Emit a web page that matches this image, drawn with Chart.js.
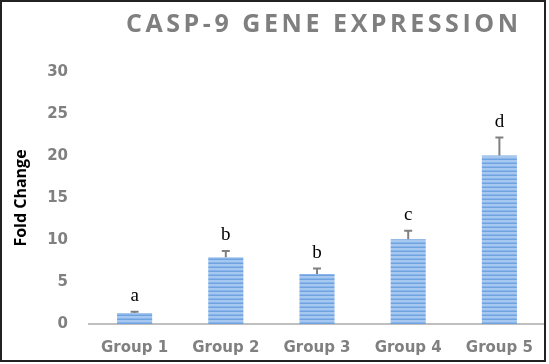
<!DOCTYPE html>
<html>
<head>
<meta charset="utf-8">
<script src="https://cdn.jsdelivr.net/npm/chart.js@4.4.1/dist/chart.umd.min.js"></script>
<style>
    html, body { margin: 0; padding: 0; background: white; }
    #wrap { width: 549px; height: 364px; }
</style>
</head>
<body>
<div id="wrap"><canvas id="grafico"></canvas></div>
<script>
const grupos = ['Group 1', 'Group 2', 'Group 3', 'Group 4', 'Group 5']
const foldChange = [1.3, 7.95, 5.95, 10.1, 20.05]
const errores = [0.15, 0.75, 0.65, 1.0, 2.15]
const letras = ['a', 'b', 'b', 'c', 'd']
const tituloTexto = 'CASP-9 GENE EXPRESSION'

// rayas horizontales de las barras
function crearPatron() {
    const c = document.createElement('canvas')
    c.width = 1
    c.height = 4
    const g = c.getContext('2d')
    g.fillStyle = '#a6c7f0'
    g.fillRect(0, 0, 1, 4)
    g.fillStyle = '#8ab5ea'
    g.fillRect(0, 2, 1, 1)
    g.fillStyle = '#6fa3e0'
    g.fillRect(0, 3, 1, 1)
    return g.createPattern(c, 'repeat')
}

const extras = {
    id: 'extras',
    afterDatasetsDraw(chart) {
        const ctx = chart.ctx
        const y = chart.scales.y
        const barras = chart.getDatasetMeta(0).data
        ctx.save()
        barras.forEach((bar, i) => {
            const yErr = y.getPixelForValue(foldChange[i] + errores[i])
            ctx.strokeStyle = '#808080'
            ctx.lineWidth = 2
            ctx.beginPath()
            ctx.moveTo(bar.x, bar.y)
            ctx.lineTo(bar.x, yErr)
            ctx.moveTo(bar.x - 4, yErr)
            ctx.lineTo(bar.x + 4, yErr)
            ctx.stroke()

            ctx.fillStyle = '#000'
            ctx.font = '19px "Liberation Serif"'
            ctx.textAlign = 'center'
            ctx.textBaseline = 'alphabetic'
            ctx.fillText(letras[i], bar.x, yErr - 11)
        })
        ctx.restore()
    },
    afterDraw(chart) {
        const ctx = chart.ctx
        ctx.save()
        // titulo
        ctx.font = 'bold 25px "Open Sans"'
        ctx.fillStyle = '#7f7f7f'
        ctx.textBaseline = 'middle'
        ctx.textAlign = 'left'
        const w = ctx.measureText(tituloTexto).width
        const esp = (392 - w) / (tituloTexto.length - 1)
        ctx.letterSpacing = esp + 'px'
        ctx.fillText(tituloTexto, 322 - 196, 25)
        ctx.letterSpacing = '0px'
        // marco
        ctx.strokeStyle = '#222'
        ctx.lineWidth = 2
        ctx.strokeRect(1, 1, 544, 360)
        ctx.restore()
    }
}

const ctx = document.getElementById('grafico').getContext('2d')
new Chart(ctx, {
    type: 'bar',
    data: {
        labels: grupos,
        datasets: [{
            data: foldChange,
            backgroundColor: crearPatron(),
            borderWidth: 0,
            categoryPercentage: 1,
            barPercentage: 0.385
        }]
    },
    options: {
        responsive: true,
        maintainAspectRatio: false,
        animation: false,
        layout: {
            padding: { top: 72, left: 12, right: 4, bottom: 7 }
        },
        plugins: {
            legend: { display: false },
            title: { display: false },
            tooltip: { enabled: false }
        },
        scales: {
            y: {
                min: 0,
                max: 30,
                ticks: {
                    stepSize: 5,
                    padding: 21,
                    color: '#808080',
                    font: { family: 'DejaVu Sans', size: 15, weight: 'bold' }
                },
                grid: { display: false, drawTicks: false },
                border: { display: false },
                title: {
                    display: true,
                    text: 'Fold Change',
                    color: '#000',
                    padding: { top: 0, bottom: 0 },
                    font: { family: 'Open Sans', size: 16, weight: 'bold' }
                },
                afterFit(scale) {
                    scale.width = 77
                }
            },
            x: {
                ticks: {
                    padding: 15,
                    color: '#808080',
                    font: { family: 'DejaVu Sans', size: 15, weight: 'bold' }
                },
                grid: { display: false, drawTicks: false },
                border: { display: true, color: '#bfbfbf', width: 2 },
                afterFit(scale) {
                    scale.height = 33
                }
            }
        }
    },
    plugins: [extras]
})
</script>
</body>
</html>
